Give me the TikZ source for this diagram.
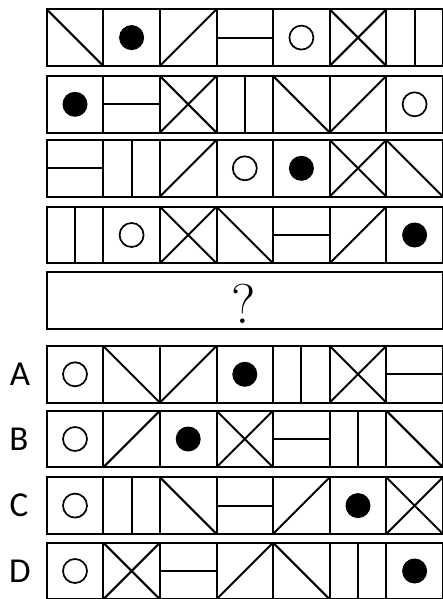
\documentclass[tikz,border=0pt]{standalone}
\usepackage{fontspec}
\usepackage{tikz}
\newfontfamily\labelfont{Carlito}
\tikzset{
  cellline/.style={line width=2pt},
  choice/.style={font=\labelfont\fontsize{35}{38}\selectfont},
}
\newcommand{\cw}{56.6}
\newcommand{\ch}{56.6}
% one macro per glyph, arguments: left x, top y
\newcommand{\glyphbs}[2]{\draw[cellline] (#1,#2) -- ++(\cw,\ch);}
\newcommand{\glyphsl}[2]{\draw[cellline] (#1,#2+\ch) -- ++(\cw,-\ch);}
\newcommand{\glyphxx}[2]{\glyphbs{#1}{#2}\glyphsl{#1}{#2}}
\newcommand{\glyphhz}[2]{\draw[cellline] (#1,#2+0.5*\ch) -- ++(\cw,0);}
\newcommand{\glyphvt}[2]{\draw[cellline] (#1+0.5*\cw,#2) -- ++(0,\ch);}
\newcommand{\glyphfd}[2]{\fill (#1+0.5*\cw,#2+0.5*\ch) circle[radius=12.5];}
\newcommand{\glyphoc}[2]{\draw[line width=1.7pt] (#1+0.5*\cw,#2+0.5*\ch) circle[radius=12];}
\begin{document}
\begin{tikzpicture}[x=1pt, y=-1pt]
    \useasboundingbox (0,0) rectangle (442,599);
    \foreach \ytop/\glyphs in {9.3/{bs,fd,sl,hz,oc,xx,vt},
                              76/{fd,hz,xx,vt,bs,sl,oc},
                              140/{hz,vt,sl,oc,fd,xx,bs},
                              206.7/{vt,oc,xx,bs,hz,sl,fd},
                              346/{oc,bs,sl,fd,vt,xx,hz},
                              410.7/{oc,sl,fd,xx,hz,vt,bs},
                              477.3/{oc,vt,bs,hz,sl,fd,xx},
                              542.7/{oc,xx,hz,sl,bs,vt,fd}}{
      \foreach \g [count=\i from 0] in \glyphs {
        \pgfmathsetmacro{\xl}{46.7+\i*\cw}
        \draw[cellline] (\xl,\ytop) rectangle ++(\cw,\ch);
        \csname glyph\g\endcsname{\xl}{\ytop}
      }
    }
    % the empty answer row
    \draw[cellline] (46.7,272.3) rectangle ++(7*\cw,\ch);
    \node[font=\fontsize{56}{60}\selectfont] (qmark) at (243.5,303.5) {?};
    \node[choice] (optA) at (20,374.3) {A};
    \node[choice] (optB) at (19,439) {B};
    \node[choice] (optC) at (19,505.6) {C};
    \node[choice] (optD) at (20,571) {D};
\end{tikzpicture}
\end{document}
